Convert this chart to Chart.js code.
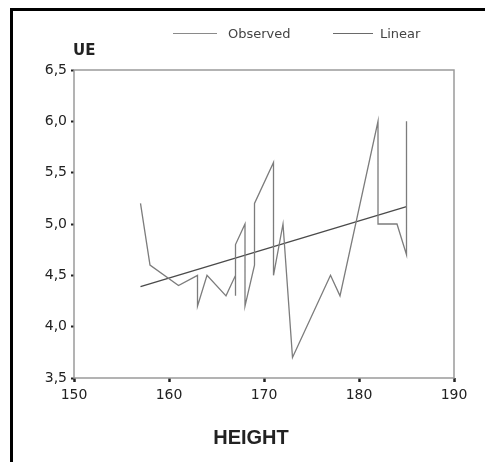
<!DOCTYPE html>
<html>
<head>
<meta charset="utf-8">
<script src="https://cdn.jsdelivr.net/npm/chart.js@4"></script>
<style>
    body { margin: 0; background: #fff; }
    #box { width: 485px; height: 462px; position: relative; }
</style>
</head>
<body>
<div id="box"><canvas id="grafico"></canvas></div>
<script>
// Data
const heights = [157, 158, 161, 163, 163, 164, 166, 167, 167, 167, 168, 168, 169, 169, 171, 171, 172, 173, 177, 178, 182, 182, 184, 185, 185];
const ueValues = [5.2, 4.6, 4.4, 4.5, 4.2, 4.5, 4.3, 4.5, 4.3, 4.8, 5.0, 4.2, 4.6, 5.2, 5.6, 4.5, 5.0, 3.7, 4.5, 4.3, 6.0, 5.0, 5.0, 4.7, 6.0];
const fitHeights = [157, 185];
const fitValues = [4.39, 5.17];
const xTicks = [150, 160, 170, 180, 190];
const yTicks = [3.5, 4.0, 4.5, 5.0, 5.5, 6.0, 6.5];
const seriesNames = ['Observed', 'Linear'];

function toPoints(xs, ys) {
    return xs.map((x, i) => ({ x: x, y: ys[i] }));
}

// Frame, legend and titles
const extras = {
    id: 'extras',
    afterDraw(chart) {
        const ctx = chart.ctx;
        const area = chart.chartArea;
        ctx.save();

        // plot box
        ctx.strokeStyle = '#9a9a9a';
        ctx.lineWidth = 1.5;
        ctx.strokeRect(area.left, area.top, area.right - area.left, area.bottom - area.top);

        // outer black frame (left and top)
        ctx.strokeStyle = '#000';
        ctx.lineWidth = 3;
        ctx.beginPath();
        ctx.moveTo(11.5, 462);
        ctx.lineTo(11.5, 9.5);
        ctx.lineTo(485, 9.5);
        ctx.stroke();

        // legend
        const items = [
            { x1: 173, x2: 217, tx: 228, color: '#8a8a8a' },
            { x1: 333, x2: 373, tx: 380, color: '#6a6a6a' }
        ];
        ctx.font = '13px "DejaVu Sans"';
        ctx.textBaseline = 'alphabetic';
        ctx.textAlign = 'left';
        items.forEach((item, i) => {
            ctx.strokeStyle = item.color;
            ctx.lineWidth = 1;
            ctx.beginPath();
            ctx.moveTo(item.x1, 33.5);
            ctx.lineTo(item.x2, 33.5);
            ctx.stroke();
            ctx.fillStyle = '#444';
            ctx.fillText(seriesNames[i], item.tx, 38);
        });

        // axis titles
        ctx.fillStyle = '#222';
        ctx.font = 'bold 15px "DejaVu Sans"';
        ctx.fillText('UE', 73, 55);
        ctx.font = 'bold 20px "Liberation Sans"';
        ctx.textAlign = 'center';
        ctx.fillText('HEIGHT', 251, 444);

        ctx.restore();
    }
};

const ctx = document.getElementById('grafico').getContext('2d');

new Chart(ctx, {
    type: 'scatter',
    data: {
        datasets: [
            {
                label: seriesNames[0],
                data: toPoints(heights, ueValues),
                showLine: true,
                borderColor: '#7c7c7c',
                borderWidth: 1.3,
                pointRadius: 0,
                tension: 0
            },
            {
                label: seriesNames[1],
                data: toPoints(fitHeights, fitValues),
                showLine: true,
                borderColor: '#4a4a4a',
                borderWidth: 1.3,
                pointRadius: 0,
                tension: 0
            }
        ]
    },
    options: {
        responsive: true,
        maintainAspectRatio: false,
        animation: false,
        layout: {
            padding: { top: 70, right: 31, bottom: 0, left: 0 }
        },
        plugins: {
            legend: { display: false },
            tooltip: { enabled: false }
        },
        scales: {
            x: {
                type: 'linear',
                min: 150,
                max: 190,
                afterBuildTicks: scale => { scale.ticks = xTicks.map(v => ({ value: v })); },
                afterFit: scale => { scale.height = 84; },
                grid: { drawOnChartArea: false, drawTicks: true, tickLength: 4, tickWidth: 2.5, color: '#222' },
                border: { display: false },
                ticks: {
                    padding: 5,
                    color: '#222',
                    font: { family: 'DejaVu Sans', size: 14 }
                }
            },
            y: {
                min: 3.5,
                max: 6.5,
                afterBuildTicks: scale => { scale.ticks = yTicks.map(v => ({ value: v })); },
                afterFit: scale => { scale.width = 74; },
                grid: { drawOnChartArea: false, drawTicks: true, tickLength: 3, tickWidth: 2, color: '#222' },
                border: { display: false },
                ticks: {
                    padding: 4,
                    color: '#222',
                    font: { family: 'DejaVu Sans', size: 14 },
                    callback: v => v.toFixed(1).replace('.', ',')
                }
            }
        }
    },
    plugins: [extras]
});
</script>
</body>
</html>
